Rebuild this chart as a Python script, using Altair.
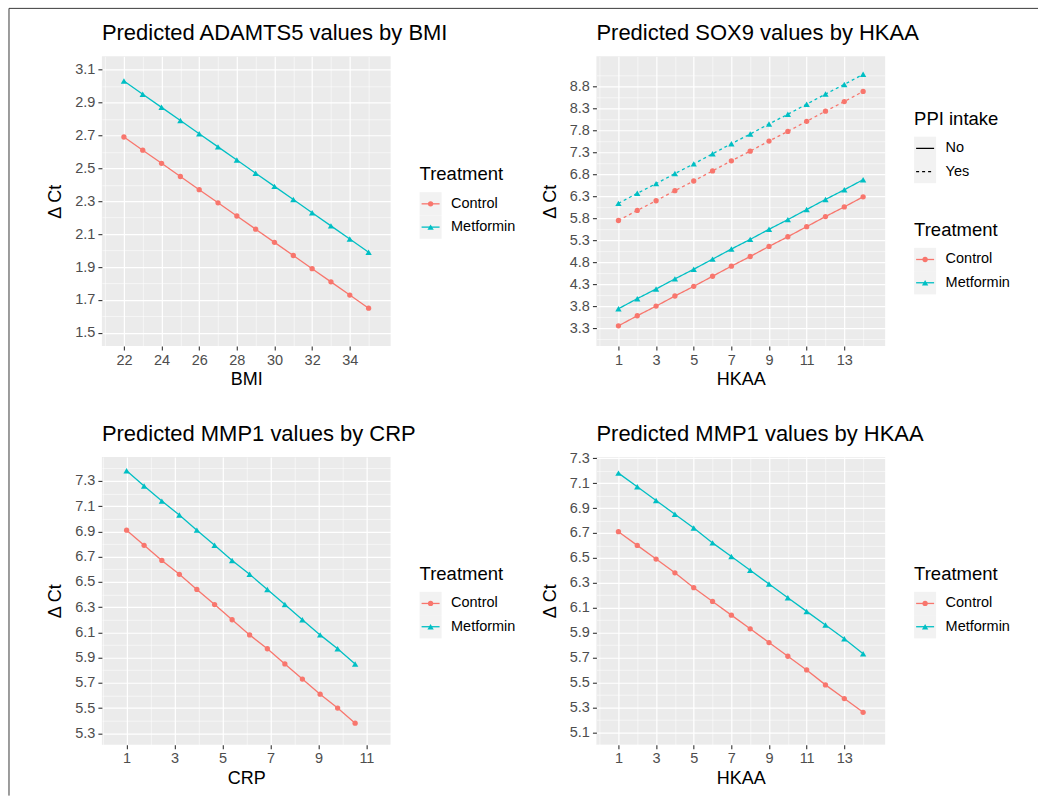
import altair as alt
import pandas as pd

FONT = "Liberation Sans"
RED, CYAN = "#F8766D", "#00BFC4"
FRAME = "#3a3a3a"
TREATMENTS = ["Control", "Metformin"]
PPI_LEVELS = ["No", "Yes"]

# ---- Panel 1: ADAMTS5 by BMI
bmi = list(range(22, 36))
adamts5_control = [2.69, 2.61, 2.53, 2.45, 2.37, 2.29, 2.21, 2.13, 2.05, 1.97, 1.89, 1.81, 1.73, 1.65]
adamts5_metformin = [3.03, 2.95, 2.87, 2.79, 2.71, 2.63, 2.55, 2.47, 2.39, 2.31, 2.23, 2.15, 2.07, 1.99]
bmi_ticks = [22, 24, 26, 28, 30, 32, 34]
bmi_minor = [21, 23, 25, 27, 29, 31, 33, 35]
adamts5_ticks = [1.5, 1.7, 1.9, 2.1, 2.3, 2.5, 2.7, 2.9, 3.1]
adamts5_minor = [1.6, 1.8, 2.0, 2.2, 2.4, 2.6, 2.8, 3.0]

# ---- Panel 2: SOX9 by HKAA
hkaa = list(range(1, 15))
sox9_control_no = [3.35, 3.58, 3.80, 4.03, 4.25, 4.48, 4.71, 4.93, 5.16, 5.38, 5.61, 5.84, 6.06, 6.29]
sox9_metformin_no = [3.74, 3.97, 4.19, 4.42, 4.64, 4.87, 5.10, 5.32, 5.55, 5.77, 6.00, 6.23, 6.45, 6.68]
sox9_control_yes = [5.75, 5.98, 6.20, 6.43, 6.65, 6.88, 7.11, 7.33, 7.56, 7.78, 8.01, 8.24, 8.46, 8.69]
sox9_metformin_yes = [6.14, 6.37, 6.59, 6.82, 7.04, 7.27, 7.50, 7.72, 7.95, 8.17, 8.40, 8.63, 8.85, 9.08]
hkaa_ticks = [1, 3, 5, 7, 9, 11, 13]
hkaa_minor = [0, 2, 4, 6, 8, 10, 12, 14]
sox9_ticks = [3.3, 3.8, 4.3, 4.8, 5.3, 5.8, 6.3, 6.8, 7.3, 7.8, 8.3, 8.8]
sox9_minor = [3.05, 3.55, 4.05, 4.55, 5.05, 5.55, 6.05, 6.55, 7.05, 7.55, 8.05, 8.55, 9.05]

# ---- Panel 3: MMP1 by CRP
crp = [1.0, 1.73, 2.47, 3.2, 3.93, 4.67, 5.4, 6.13, 6.87, 7.6, 8.33, 9.07, 9.8, 10.53]
mmp1_crp_control = [6.91, 6.79, 6.67, 6.56, 6.44, 6.32, 6.20, 6.08, 5.97, 5.85, 5.73, 5.61, 5.50, 5.38]
mmp1_crp_metformin = [7.38, 7.26, 7.14, 7.03, 6.91, 6.79, 6.67, 6.56, 6.44, 6.32, 6.20, 6.08, 5.97, 5.85]
crp_ticks = [1, 3, 5, 7, 9, 11]
crp_minor = [0, 2, 4, 6, 8, 10, 12]
mmp1_crp_ticks = [5.3, 5.5, 5.7, 5.9, 6.1, 6.3, 6.5, 6.7, 6.9, 7.1, 7.3]
mmp1_crp_minor = [5.4, 5.6, 5.8, 6.0, 6.2, 6.4, 6.6, 6.8, 7.0, 7.2, 7.4]

# ---- Panel 4: MMP1 by HKAA
mmp1_hkaa_control = [6.71, 6.60, 6.49, 6.38, 6.26, 6.15, 6.04, 5.93, 5.82, 5.71, 5.60, 5.48, 5.37, 5.26]
mmp1_hkaa_metformin = [7.18, 7.07, 6.96, 6.85, 6.74, 6.62, 6.51, 6.40, 6.29, 6.18, 6.07, 5.96, 5.85, 5.73]
mmp1_hkaa_ticks = [5.1, 5.3, 5.5, 5.7, 5.9, 6.1, 6.3, 6.5, 6.7, 6.9, 7.1, 7.3]
mmp1_hkaa_minor = [5.0, 5.2, 5.4, 5.6, 5.8, 6.0, 6.2, 6.4, 6.6, 6.8, 7.0, 7.2]


def long_df(xname, xs, series):
    rows = []
    for (treat, ppi), vals in series.items():
        for xv, yv in zip(xs, vals):
            rows.append({xname: xv, "value": yv, "Treatment": treat, "PPI": ppi})
    return pd.DataFrame(rows)


df1 = long_df("BMI", bmi, {("Control", "No"): adamts5_control, ("Metformin", "No"): adamts5_metformin})
df2 = long_df("HKAA", hkaa, {("Control", "No"): sox9_control_no, ("Metformin", "No"): sox9_metformin_no,
                             ("Control", "Yes"): sox9_control_yes, ("Metformin", "Yes"): sox9_metformin_yes})
df3 = long_df("CRP", crp, {("Control", "No"): mmp1_crp_control, ("Metformin", "No"): mmp1_crp_metformin})
df4 = long_df("HKAA", hkaa, {("Control", "No"): mmp1_hkaa_control, ("Metformin", "No"): mmp1_hkaa_metformin})

PLOT_W = 289
KEY_H = 23.3


def color_enc(field="Treatment"):
    return alt.Color(f"{field}:N", scale=alt.Scale(domain=TREATMENTS, range=[RED, CYAN]), legend=None)


def shape_enc(field="Treatment"):
    return alt.Shape(f"{field}:N", scale=alt.Scale(domain=TREATMENTS, range=["circle", "triangle-up"]), legend=None)


def size_enc(field="Treatment"):
    return alt.Size(f"{field}:N", scale=alt.Scale(domain=TREATMENTS, range=[28, 40]), legend=None)


def frame_rule(**enc):
    # decorative outer frame of the figure (not data)
    return alt.Chart(pd.DataFrame({"f": [0]})).mark_rule(color=FRAME, strokeWidth=1).encode(**enc)


def panel(df, xf, title, xdom, xt, xm, ydom, yt, ym, h, dashed=False, extra=()):
    xs = alt.Scale(domain=xdom, nice=False, zero=False)
    ys = alt.Scale(domain=ydom, nice=False, zero=False)
    base = alt.Chart(df)
    minor = base.mark_point(opacity=0).encode(
        x=alt.X(f"{xf}:Q", scale=xs, axis=alt.Axis(values=xm, grid=True, gridWidth=0.55, labels=False,
                                                   ticks=False, domain=False, title=None, orient="bottom")),
        y=alt.Y("value:Q", scale=ys, axis=alt.Axis(values=ym, grid=True, gridWidth=0.55, labels=False,
                                                  ticks=False, domain=False, title=None, orient="left")),
    )
    enc = dict(
        x=alt.X(f"{xf}:Q", scale=xs, axis=alt.Axis(values=xt, title=xf, orient="bottom", grid=True, format="d")),
        y=alt.Y("value:Q", scale=ys, axis=alt.Axis(values=yt, title="Δ Ct", orient="left", grid=True, format=".1f")),
        color=color_enc(),
    )
    if dashed:
        enc["strokeDash"] = alt.StrokeDash("PPI:N", scale=alt.Scale(domain=PPI_LEVELS, range=[[1, 0], [3, 3]]), legend=None)
    else:
        enc["detail"] = "PPI:N"
    line = base.mark_line(strokeWidth=1.3).encode(**enc)
    pts = base.mark_point(filled=True, opacity=1).encode(
        x=alt.X(f"{xf}:Q", scale=xs, axis=None),
        y=alt.Y("value:Q", scale=ys, axis=None),
        color=color_enc(), shape=shape_enc(), size=size_enc(),
    )
    ttl = alt.Chart(pd.DataFrame({"t": [title]})).mark_text(
        align="left", baseline="middle", fontSize=22, font=FONT, color="black").encode(
        x=alt.value(0), y=alt.value(-23), text="t:N")
    return alt.layer(minor, line, pts, ttl, *extra).resolve_axis(x="independent", y="independent").properties(
        width=PLOT_W, height=h,
        view=alt.ViewBackground(fill="#EBEBEB", stroke=None),
    )


def legend_block(title, entries, top, kind):
    df = pd.DataFrame({"label": entries})
    y = alt.Y("label:N", scale=alt.Scale(domain=entries, range=[top, top + KEY_H * len(entries)],
                                        paddingInner=0, paddingOuter=0), axis=None)
    base = alt.Chart(df)
    bg = base.mark_rect(color="#F2F2F2").encode(x=alt.value(0), x2=alt.value(22), y=y)
    if kind == "treat":
        rule = base.mark_rule(strokeWidth=1.3).encode(x=alt.value(2), x2=alt.value(20), y=y, color=color_enc("label"))
        pt = base.mark_point(filled=True, opacity=1).encode(
            x=alt.value(11), y=y, color=color_enc("label"), shape=shape_enc("label"), size=size_enc("label"))
        marks = [bg, rule, pt]
    else:
        rule = base.mark_rule(strokeWidth=1.3, color="black").encode(
            x=alt.value(2), x2=alt.value(20), y=y,
            strokeDash=alt.StrokeDash("label:N", scale=alt.Scale(domain=PPI_LEVELS, range=[[1, 0], [3, 3]]), legend=None))
        marks = [bg, rule]
    labels = base.mark_text(align="left", baseline="middle", fontSize=14.5, font=FONT, color="black").encode(
        x=alt.value(31.5), y=y, text="label:N")
    ttl = alt.Chart(pd.DataFrame({"t": [title]})).mark_text(
        align="left", baseline="middle", fontSize=18.5, font=FONT, color="black").encode(
        x=alt.value(0), y=alt.value(top - 18), text="t:N")
    return alt.layer(*marks, labels, ttl)


def legend_chart(blocks, h, w):
    layers = [legend_block(*b) for b in blocks]
    ch = alt.layer(*layers).resolve_scale(y="independent", color="independent", shape="independent",
                                          strokeDash="independent", size="independent")
    return ch.properties(width=w, height=h, view=alt.ViewBackground(fill=None, stroke=None))


H1 = 290
H2 = 288

# figure frame (pixel offsets relative to the top-left plot area)
frame = [frame_rule(x=alt.value(-93), x2=alt.value(937), y=alt.value(-48)),
         frame_rule(x=alt.value(-93), y=alt.value(-48), y2=alt.value(740))]

p1 = panel(df1, "BMI", "Predicted ADAMTS5 values by BMI", [20.83, 36.17], bmi_ticks, bmi_minor,
           [1.42, 3.18], adamts5_ticks, adamts5_minor, H1, extra=frame)
p2 = panel(df2, "HKAA", "Predicted SOX9 values by HKAA", [-0.17, 15.17], hkaa_ticks, hkaa_minor,
           [2.89, 9.49], sox9_ticks, sox9_minor, H1, dashed=True)
p3 = panel(df3, "CRP", "Predicted MMP1 values by CRP", [-0.03, 12.01], crp_ticks, crp_minor,
           [5.21, 7.49], mmp1_crp_ticks, mmp1_crp_minor, H2)
p4 = panel(df4, "HKAA", "Predicted MMP1 values by HKAA", [-0.17, 15.17], hkaa_ticks, hkaa_minor,
           [5.00, 7.31], mmp1_hkaa_ticks, mmp1_hkaa_minor, H2)

l1 = legend_chart([("Treatment", TREATMENTS, 136, "treat")], H1, 148)
l2 = legend_chart([("PPI intake", PPI_LEVELS, 80.4, "ppi"), ("Treatment", TREATMENTS, 191.7, "treat")], H1, 100)
l3 = legend_chart([("Treatment", TREATMENTS, 135, "treat")], H2, 148)
l4 = legend_chart([("Treatment", TREATMENTS, 135, "treat")], H2, 100)

RES = dict(x="independent", y="independent", color="independent", shape="independent",
           strokeDash="independent", size="independent")

chart = alt.concat(p1, l1, p2, l2, p3, l3, p4, l4, columns=4,
                   spacing={"row": 111, "column": 29}, bounds="flush").resolve_scale(**RES).properties(
    padding={"left": 8, "top": 7, "right": 0, "bottom": 0},
    background="white",
).configure(font=FONT).configure_axis(
    labelFontSize=14.5, labelColor="#4D4D4D", labelFont=FONT, labelPadding=3,
    tickColor="#333333", tickSize=4, tickWidth=1.1,
    titleFontSize=18, titleColor="black", titleFontWeight="normal", titleFont=FONT,
    domain=False, gridColor="white", gridWidth=1.2,
).configure_axisX(titlePadding=4).configure_axisY(titlePadding=10).configure_view(stroke=None)

chart.save("out.html", embed_options={"renderer": "svg", "actions": False})
